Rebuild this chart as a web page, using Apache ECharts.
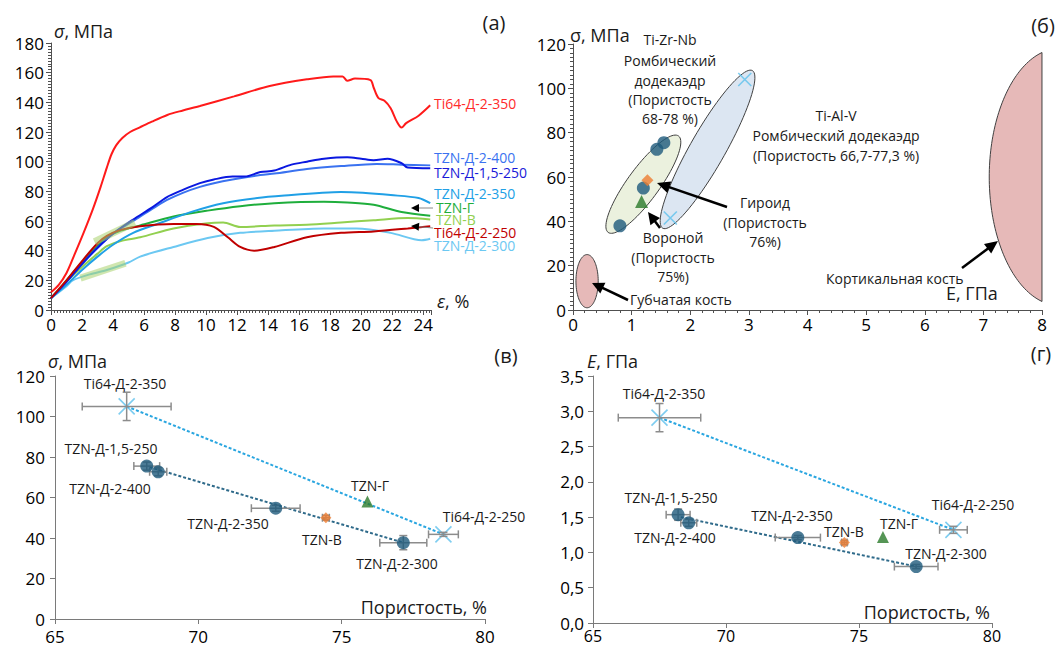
<!DOCTYPE html>
<html><head><meta charset="utf-8">
<script src="https://cdn.jsdelivr.net/npm/echarts@6/dist/echarts.min.js"></script>
<style>html,body{margin:0;padding:0;background:#fff}#c{width:1062px;height:648px}</style>
</head><body><div id="c"></div>
<script>
// ---------- Panel (a): stress–strain curves [strain %, stress MPa] ----------
const curveTi64_350 = [[0,12],[0.5,17],[1,25],[1.5,37],[2.1,52],[2.7,68],[3.2,83],[3.6,96],[3.9,105],[4.2,111],[4.6,116],[5.1,120],[5.7,123],[6.5,127],[7.5,131.5],[8.5,134.5],[9.6,137.5],[11.8,144],[14.1,151],[16.5,155.5],[18.2,157.5],[18.8,157.5],[19.1,154.5],[19.6,156],[20.6,155],[20.8,150],[21.1,143],[21.5,141],[21.9,136],[22.3,127],[22.6,123],[22.9,126],[23.7,131],[24.45,138]];
const curveTZN_2_400 = [[0,8],[1,19],[2,31],[3,42],[4,51.5],[5.3,60],[6.5,68],[7.45,74],[8.5,79],[9.6,83],[10.5,85.5],[11.7,88],[13.5,91],[14.4,92],[16.5,95],[18.7,97],[21,98.5],[22.6,98],[24.45,97.5]];
const curveTZN_15_250 = [[0,8],[1,19],[2,31],[3,42],[4,51.5],[5.3,61],[6.5,69],[7.45,76],[8.5,81],[9.6,85.5],[10.5,88],[11.7,90],[12.5,90],[13.5,93],[14.4,94],[15.5,98],[16.5,100],[17.6,102],[19.1,103],[20,102],[20.8,101],[21.7,102],[22.6,99],[23,96],[24.45,95.5]];
const curveTZN_2_350 = [[0,8],[1,17],[2,27],[3,36],[4,44],[5.3,52],[6.85,58],[9,66],[11.1,72],[13.3,75.5],[15.5,77.5],[17.5,79],[18.7,79.5],[20.1,79],[21.9,77.5],[23.7,75.5],[24.45,72]];
const curveTZN_G = [[0,8],[1,20],[2,32],[3,43],[3.6,49],[4.5,53.5],[5.75,57],[7.9,63],[10.1,67],[12.2,70],[14.4,72],[17.6,73],[19.1,72.5],[20.8,71],[22.6,66],[24.45,63.5]];
const curveTZN_V = [[0,8],[1,19],[2,29],[3,38],[3.6,43],[4.5,46.5],[5.75,49],[7.9,55],[10.1,58.5],[11.1,59],[12.2,56],[14.4,57],[16.5,57.5],[18.7,59],[20.8,60.5],[23,62],[24.45,61]];
const curveTi64_250 = [[0,8],[1,20],[2,33],[3,45],[3.6,50],[4.5,54],[5.75,56.5],[7.9,58],[9.4,58],[10.5,56],[11.4,49],[12.2,42.5],[13.1,40],[14.4,42.5],[16.5,49],[18.7,52],[20.8,53],[23,55],[24.45,56.5]];
const curveTZN_2_300 = [[0,8],[1,16],[1.4,20],[2.5,24],[3.6,27],[5,32],[5.75,36],[7.9,42.5],[10.1,48.5],[12.2,52],[14.4,53.5],[17.6,55],[19.7,55],[21.9,52],[23.9,47],[24.45,48]];
const fitBandLow = [[1.9,21.5],[4.8,31.5]];
const fitBandHigh = [[2.8,46],[5.4,59]];

// ---------- Panel (б): E (GPa) vs sigma (MPa) ----------
const regionSpongy = [0.24, 13, 0, 12, 0.19, 0, 0, 360];
const regionCortical = [8.3, 60, 0, 58, -1.2, 0, 14.5, 165.5];
const regionTiZrNb = [1.2, 56.75, 0.6, 21.75, 0.22, -4.26, 0, 360];
const regionTiAlV = [2.295, 72.45, 0.765, 35.55, 0.26, -3.91, 0, 360];
const mapTZN_D = [[0.8,38],[1.2,55],[1.43,72.5],[1.55,75.5]];
const mapTZN_V = [[1.27,58.5]];
const mapTZN_G = [[1.17,49]];
const mapTi64 = [[2.93,104],[1.66,41.5]];

// ---------- Panels (в), (г): porosity dependence ----------
const porTZN_D = [68.2, 68.6, 72.7, 77.15];
const porErrTZN_D = [0.45, 0.3, 0.85, 0.82];
const sigTZN_D = [75.5, 72.7, 54.7, 37.7];
const sigErrTZN_D = [2, 2, 1.5, 3.5];
const eTZN_D = [1.535, 1.42, 1.21, 0.80];
const eErrTZN_D = [0.08, 0.05, 0.03, 0.03];
const porTi64 = [67.5, 78.55];
const porErrTi64 = [1.55, 0.52];
const sigTi64 = [105, 41.8];
const sigErrTi64 = [7, 1];
const eTi64 = [2.91, 1.32];
const eErrTi64 = [0.2, 0.05];
const porTZN_V = [74.45], sigTZN_V = [50], eTZN_V = [1.14];
const porTZN_G = [75.9], sigTZN_G = [58], eTZN_G = [1.22];
const trendSigTi64 = [[67.5,105],[78.55,41.8]];
const trendSigTZN = [[68.3,75],[77.15,37.7]];
const trendETi64 = [[67.5,2.91],[78.55,1.32]];
const trendETZN = [[68.3,1.5],[77.15,0.80]];

const FONT = '"Open Sans", "Noto Sans", "DejaVu Sans", sans-serif';
const AXA = '#505050', AXC = '#7a7a7a';
const C_CIRCLE = '#1e5a7c', C_ORANGE = '#ed7d31', C_GREEN = '#2a7a2a', C_CROSS = '#5ec0ec';
const C_TR_LIGHT = '#2aa6e0', C_TR_DARK = '#2e6a8a';
const CROSS = 'path://M0,0L10,10M10,0L0,10';

const zip = (a, b) => a.map((v, i) => [v, b[i]]);
const zip4 = (a, b, c, d) => a.map((v, i) => [v, b[i], c[i], d[i]]);

function axis(gi, min, max, interval, color, fs, margin, extra) {
  const o = {
    type: 'value', gridIndex: gi, min, max, interval,
    axisLine: {show: true, onZero: false, lineStyle: {color, width: 1}},
    axisTick: {show: true, length: 5, lineStyle: {color}},
    splitLine: {show: false},
    axisLabel: {color: '#000', fontFamily: FONT, fontSize: fs, margin}
  };
  return Object.assign(o, extra || {});
}

function ellipseItem(params, api) {
  const cx = api.value(0), cy = api.value(1), ax = api.value(2), ay = api.value(3),
        bx = api.value(4), by = api.value(5), t0 = api.value(6), t1 = api.value(7);
  const pts = [];
  const n = 90;
  for (let i = 0; i <= n; i++) {
    const t = (t0 + (t1 - t0) * i / n) * Math.PI / 180;
    pts.push(api.coord([cx + ax * Math.cos(t) + bx * Math.sin(t), cy + ay * Math.cos(t) + by * Math.sin(t)]));
  }
  return {type: 'polygon', shape: {points: pts}, style: {fill: api.visual('color'), stroke: '#404040', lineWidth: 1}};
}

function errItem(params, api) {
  const x = api.value(0), y = api.value(1), ex = api.value(2), ey = api.value(3);
  const st = {stroke: '#8c8c8c', lineWidth: 1.5};
  const cap = 4;
  const ch = [];
  if (ex > 0) {
    const l = api.coord([x - ex, y]), r = api.coord([x + ex, y]);
    ch.push({type: 'line', shape: {x1: l[0], y1: l[1], x2: r[0], y2: r[1]}, style: st});
    ch.push({type: 'line', shape: {x1: l[0], y1: l[1] - cap, x2: l[0], y2: l[1] + cap}, style: st});
    ch.push({type: 'line', shape: {x1: r[0], y1: r[1] - cap, x2: r[0], y2: r[1] + cap}, style: st});
  }
  if (ey > 0) {
    const t = api.coord([x, y + ey]), b = api.coord([x, y - ey]);
    ch.push({type: 'line', shape: {x1: t[0], y1: t[1], x2: b[0], y2: b[1]}, style: st});
    ch.push({type: 'line', shape: {x1: t[0] - cap, y1: t[1], x2: t[0] + cap, y2: t[1]}, style: st});
    ch.push({type: 'line', shape: {x1: b[0] - cap, y1: b[1], x2: b[0] + cap, y2: b[1]}, style: st});
  }
  return {type: 'group', children: ch};
}

function lineS(xi, data, color, width, extra) {
  return Object.assign({type: 'line', xAxisIndex: xi, yAxisIndex: xi, data, showSymbol: false, symbol: 'none',
    smooth: 0.3, lineStyle: {color, width}, silent: true, animation: false}, extra || {});
}
function scat(xi, data, symbol, size, color, extra) {
  return Object.assign({type: 'scatter', xAxisIndex: xi, yAxisIndex: xi, data, symbol, symbolSize: size,
    itemStyle: {color, borderColor: color, borderWidth: symbol === CROSS ? 1.6 : 0}, z: 5, animation: false, clip: false}, extra || {});
}
function errS(xi, data) {
  return {type: 'custom', xAxisIndex: xi, yAxisIndex: xi, renderItem: errItem, data, z: 3, animation: false, silent: true};
}
function trend(xi, data, color) {
  return {type: 'line', xAxisIndex: xi, yAxisIndex: xi, data, symbol: 'none', lineStyle: {color, width: 2, type: [3, 2]}, z: 2, animation: false, silent: true};
}

function txt(x, y, text, o) {
  o = o || {};
  const fs = o.fs || 14;
  const style = {text, fill: o.color || '#1a1a1a', fontFamily: FONT, fontSize: fs,
    textAlign: o.align || 'center', align: o.align || 'center', textVerticalAlign: 'middle', verticalAlign: 'middle'};
  if (o.rich) {
    style.rich = {i: {fontStyle: 'italic', fontFamily: FONT, fontSize: fs, fill: o.color || '#1a1a1a'},
                  n: {fontFamily: FONT, fontSize: fs, fill: o.color || '#1a1a1a'}};
  }
  return {type: 'text', x, y, style, z: 100, silent: true};
}
function arrow(x1, y1, x2, y2, w, hl, hw, color, lineColor) {
  const dx = x2 - x1, dy = y2 - y1, L = Math.hypot(dx, dy), ux = dx / L, uy = dy / L;
  const bx = x2 - ux * hl, by = y2 - uy * hl;
  return [
    {type: 'line', shape: {x1, y1, x2: bx + ux * 1, y2: by + uy * 1}, style: {stroke: lineColor || color, lineWidth: w}, z: 100, silent: true},
    {type: 'polygon', shape: {points: [[x2, y2], [bx - uy * hw, by + ux * hw], [bx + uy * hw, by - ux * hw]]}, style: {fill: color}, z: 100, silent: true}
  ];
}

const chart = echarts.init(document.getElementById('c'), null, {renderer: 'svg'});

const minorA = {show: true, splitNumber: 10, length: 3, lineStyle: {color: AXA}};
const minorB = {show: true, splitNumber: 5, length: 3, lineStyle: {color: AXA}};

const option = {
  backgroundColor: '#fff',
  animation: false,
  grid: [
    {left: 51, top: 43, width: 380, height: 267},
    {left: 573, top: 44, width: 469, height: 266},
    {left: 55, top: 376, width: 430, height: 243},
    {left: 593, top: 376, width: 399, height: 247}
  ],
  xAxis: [
    axis(0, 0, 24.5, 2, AXA, 17, 6, {minorTick: minorA,
      axisLabel: {color: '#000', fontFamily: FONT, fontSize: 17, margin: 6, formatter: v => (Math.abs(v % 2) < 1e-9 ? String(v) : '')}}),
    axis(1, 0, 8, 1, AXA, 17, 6, {minorTick: minorB}),
    axis(2, 65, 80, 5, AXC, 17, 9),
    axis(3, 65, 80, 5, AXC, 16, 5)
  ],
  yAxis: [
    axis(0, 0, 180, 20, AXA, 17, 7, {minorTick: minorA}),
    axis(1, 0, 120, 20, AXA, 17, 7, {minorTick: minorA}),
    axis(2, 0, 120, 20, AXC, 17, 10),
    axis(3, 0, 3.5, 0.5, AXC, 17, 9, {axisLabel: {color: '#000', fontFamily: FONT, fontSize: 17, margin: 9,
      formatter: v => v.toFixed(1).replace('.', ',')}})
  ],
  series: [
    // (a)
    lineS(0, curveTZN_2_300, '#6cc8f2', 2),
    lineS(0, curveTZN_V, '#92d050', 2),
    lineS(0, curveTZN_G, '#1fae3c', 2),
    lineS(0, curveTZN_2_350, '#20a0e6', 2),
    lineS(0, curveTZN_2_400, '#3a72f0', 2),
    lineS(0, curveTZN_15_250, '#0a18e0', 2),
    lineS(0, curveTi64_250, '#c00000', 2),
    lineS(0, curveTi64_350, '#ff1a1a', 2),
    lineS(0, fitBandLow, 'rgba(170,210,110,0.55)', 7, {smooth: false}),
    lineS(0, fitBandHigh, 'rgba(170,210,110,0.55)', 7, {smooth: false}),
    // (б) regions
    {type: 'custom', xAxisIndex: 1, yAxisIndex: 1, renderItem: ellipseItem, animation: false, silent: true, z: 1,
      data: [
        {value: regionTiAlV, itemStyle: {color: '#dce6f2'}},
        {value: regionTiZrNb, itemStyle: {color: '#ebf1de'}},
        {value: regionSpongy, itemStyle: {color: '#e6b9b8'}},
        {value: regionCortical, itemStyle: {color: '#e6b9b8'}}
      ]},
    scat(1, mapTi64, CROSS, 13, C_CROSS),
    scat(1, mapTZN_D, 'circle', 13, C_CIRCLE),
    scat(1, mapTZN_G, 'triangle', 13, C_GREEN),
    scat(1, mapTZN_V, 'diamond', 12, C_ORANGE),
    // (в)
    trend(2, trendSigTi64, C_TR_LIGHT),
    trend(2, trendSigTZN, C_TR_DARK),
    errS(2, zip4(porTZN_D, sigTZN_D, porErrTZN_D, sigErrTZN_D)),
    errS(2, zip4(porTi64, sigTi64, porErrTi64, sigErrTi64)),
    errS(2, zip4(porTZN_V, sigTZN_V, [0.12], [1.2])),
    scat(2, zip(porTi64, sigTi64), CROSS, 16, C_CROSS, {z: 2}),
    scat(2, zip(porTZN_D, sigTZN_D), 'circle', 13, C_CIRCLE),
    scat(2, zip(porTZN_G, sigTZN_G), 'triangle', 12, C_GREEN),
    scat(2, zip(porTZN_V, sigTZN_V), 'diamond', 11, C_ORANGE, {z: 5}),
    // (г)
    trend(3, trendETi64, C_TR_LIGHT),
    trend(3, trendETZN, C_TR_DARK),
    errS(3, zip4(porTZN_D, eTZN_D, porErrTZN_D, eErrTZN_D)),
    errS(3, zip4(porTi64, eTi64, porErrTi64, eErrTi64)),
    errS(3, zip4(porTZN_V, eTZN_V, [0.1], [0.03])),
    scat(3, zip(porTi64, eTi64), CROSS, 16, C_CROSS, {z: 2}),
    scat(3, zip(porTZN_D, eTZN_D), 'circle', 13, C_CIRCLE),
    scat(3, zip(porTZN_G, eTZN_G), 'triangle', 12, C_GREEN),
    scat(3, zip(porTZN_V, eTZN_V), 'diamond', 11, C_ORANGE, {z: 5})
  ],
  graphic: [
    // panel letters
    txt(494, 22, '(a)', {fs: 20}),
    txt(1043, 25, '(б)', {fs: 20}),
    txt(506, 355, '(в)', {fs: 20}),
    txt(1041, 353, '(г)', {fs: 20}),
    // axis names
    txt(54, 31, '{i|σ}{n|, МПа}', {fs: 18, align: 'left', rich: true}),
    txt(437, 301, '{i|ε}{n|, %}', {fs: 18, align: 'left', rich: true}),
    txt(570, 35, 'σ, МПа', {fs: 18, align: 'left'}),
    txt(946, 293, 'E, ГПа', {fs: 18, align: 'left'}),
    txt(48, 361, '{i|σ}{n|, МПа}', {fs: 18, align: 'left', rich: true}),
    txt(487, 607, 'Пористость, %', {fs: 18, align: 'right'}),
    txt(587, 361, '{i|E}{n|, ГПа}', {fs: 18, align: 'left', rich: true}),
    txt(990, 612, 'Пористость, %', {fs: 18, align: 'right'}),
    // (a) curve labels
    txt(434, 103, 'Ti64-Д-2-350', {fs: 14, align: 'left', color: '#ff2a2a'}),
    txt(434, 157, 'TZN-Д-2-400', {fs: 14, align: 'left', color: '#3a72f0'}),
    txt(434, 172, 'TZN-Д-1,5-250', {fs: 14, align: 'left', color: '#1a1ad8'}),
    txt(434, 193, 'TZN-Д-2-350', {fs: 14, align: 'left', color: '#20a0e6'}),
    txt(436, 207, 'TZN-Г', {fs: 14, align: 'left', color: '#1fae3c'}),
    txt(436, 219, 'TZN-В', {fs: 14, align: 'left', color: '#92d050'}),
    txt(434, 232, 'Ti64-Д-2-250', {fs: 14, align: 'left', color: '#c00000'}),
    txt(434, 245, 'TZN-Д-2-300', {fs: 14, align: 'left', color: '#6cc8f2'}),
    ...arrow(433, 208, 411, 208, 1, 8, 4, '#000', '#888'),
    ...arrow(433, 228, 411, 226, 1, 8, 4, '#000', '#888'),
    // (б) annotations
    txt(670, 39, 'Ti-Zr-Nb', {fs: 14}),
    txt(670, 60, 'Ромбический', {fs: 14}),
    txt(670, 80, 'додекаэдр', {fs: 14}),
    txt(670, 99, '(Пористость', {fs: 14}),
    txt(670, 118, '68-78 %)', {fs: 14}),
    txt(836, 115, 'Ti-Al-V', {fs: 14}),
    txt(836, 135, 'Ромбический додекаэдр', {fs: 14}),
    txt(836, 155, '(Пористость 66,7-77,3 %)', {fs: 14}),
    txt(765, 202, 'Гироид', {fs: 14}),
    txt(765, 222, '(Пористость', {fs: 14}),
    txt(765, 241, '76%)', {fs: 14}),
    txt(673, 237, 'Вороной', {fs: 14}),
    txt(673, 257, '(Пористость', {fs: 14}),
    txt(673, 276, '75%)', {fs: 14}),
    txt(630, 299, 'Губчатая кость', {fs: 14, align: 'left'}),
    txt(826, 278, 'Кортикальная кость', {fs: 14, align: 'left'}),
    ...arrow(727, 207, 657, 183, 2.5, 13, 6, '#000'),
    ...arrow(660, 228, 648, 212, 2.5, 12, 6, '#000'),
    ...arrow(628, 300, 592, 283, 2.5, 12, 6, '#000'),
    ...arrow(962, 268, 998, 241, 2.5, 13, 6, '#000'),
    // (в) point labels
    txt(125, 383, 'Ti64-Д-2-350', {fs: 14}),
    txt(111, 448, 'TZN-Д-1,5-250', {fs: 14}),
    txt(110, 488, 'TZN-Д-2-400', {fs: 14}),
    txt(228, 523, 'TZN-Д-2-350', {fs: 14}),
    txt(322, 539, 'TZN-В', {fs: 14}),
    txt(370, 485, 'TZN-Г', {fs: 14}),
    txt(484, 516, 'Ti64-Д-2-250', {fs: 14}),
    txt(397, 563, 'TZN-Д-2-300', {fs: 14}),
    // (г) point labels
    txt(664, 393, 'Ti64-Д-2-350', {fs: 14}),
    txt(671, 497, 'TZN-Д-1,5-250', {fs: 14}),
    txt(675, 537, 'TZN-Д-2-400', {fs: 14}),
    txt(792, 515, 'TZN-Д-2-350', {fs: 14}),
    txt(844, 531, 'TZN-В', {fs: 14}),
    txt(899, 523, 'TZN-Г', {fs: 14}),
    txt(973, 504, 'Ti64-Д-2-250', {fs: 14}),
    txt(946, 553, 'TZN-Д-2-300', {fs: 14})
  ]
};
chart.setOption(option);
</script>
</body></html>
